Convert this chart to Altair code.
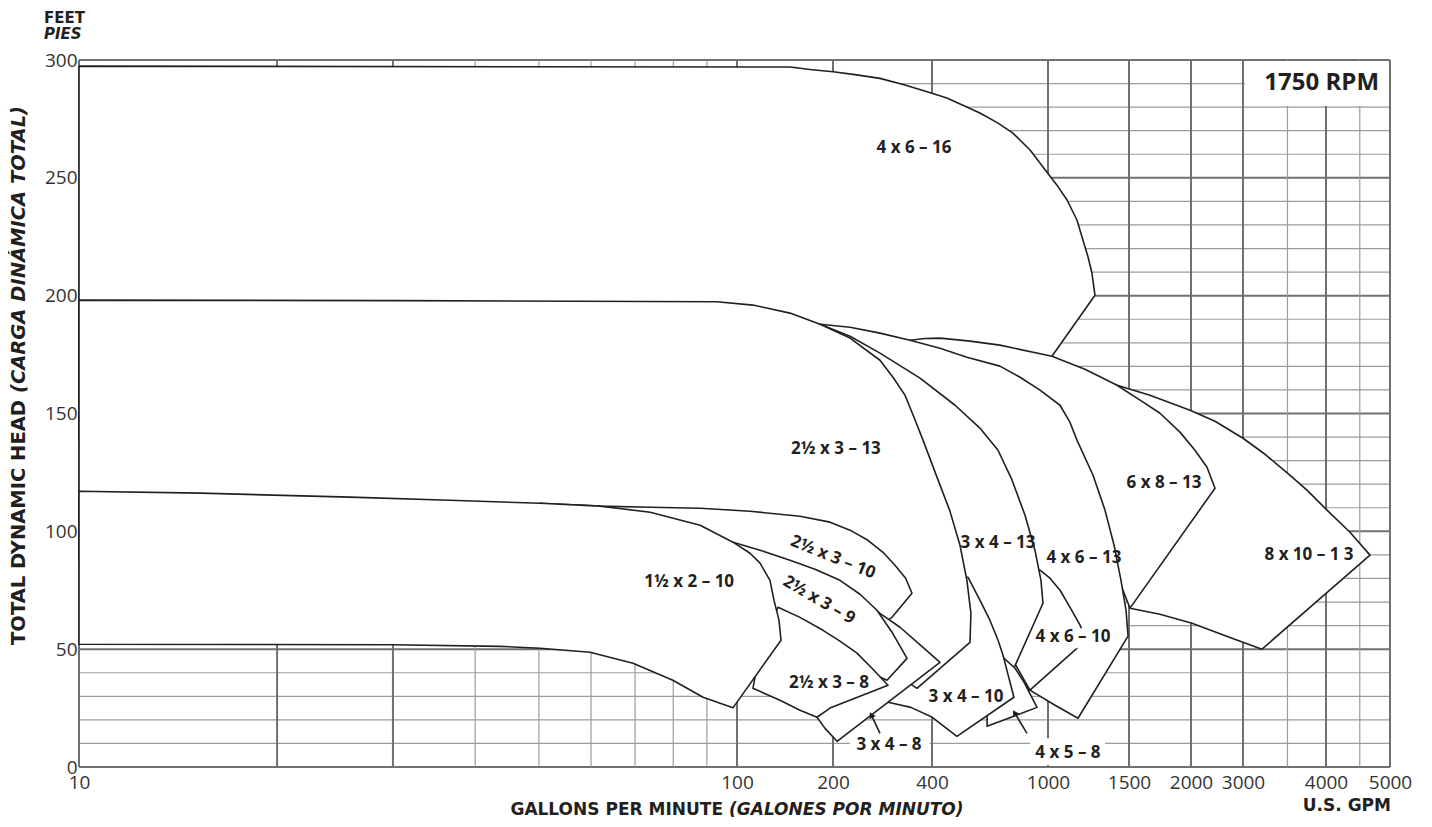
import altair as alt
import pandas as pd

INK = "#231f20"
GRID_DARK = "#707070"
GRID_LIGHT = "#9c9c9c"
FONT = "Open Sans"
TFONT = "DejaVu Sans"

# ---------------- axis / grid values ----------------
x_ticks = [10, 100, 200, 400, 1000, 1500, 2000, 3000, 4000, 5000]
y_ticks = [0, 50, 100, 150, 200, 250, 300]
v_major = [10, 20, 30, 100, 200, 400, 1000, 1500, 2000, 3000, 4000, 5000]
v_minor = [40, 50, 60, 70, 80, 90, 3500, 4500]
h_major = [0, 50, 100, 150, 200, 250, 300]
h_minor = [10, 20, 30, 40, 60, 70, 80, 90, 110, 120, 130, 140, 160, 170, 180, 190,
           210, 220, 230, 240, 260, 270, 280, 290]

# ---------------- pump coverage outlines (GPM, feet), back to front ----------------
gpm_4x6_16 = [10, 146.6, 169.4, 200, 233.3, 277.9, 331, 400, 450, 584, 674, 758, 868, 992, 1046, 1100, 1156,
              1191, 1222, 1246, 1265, 1020, 741, 10]
ft_4x6_16 = [297.4, 297.0, 296.0, 295.0, 293.8, 292.2, 289.4, 285.9, 283.9, 277.5, 273.2, 269.0, 261.8, 252.4, 246.9,
             240.6, 232.1, 223.6, 216.4, 209.6, 200.2, 174.3, 138.7, 138.7]

gpm_8x10_13 = [1413, 1653, 1991, 2412, 3000, 3238, 3500, 3745, 4014, 4349, 4663, 3204, 2711, 2016, 1732, 1507, 1434]
ft_8x10_13 = [162.0, 157.7, 151.4, 146.7, 139.5, 132.7, 124.7, 117.5, 109.0, 99.6, 89.9, 50.0, 55.0, 61.0, 64.8,
              67.4, 113.2]

gpm_6x8_13 = [342.9, 380.9, 426, 540, 684, 1020, 1203, 1413, 1579, 1732, 1900, 2063, 2266, 2412,
              1507, 1398, 1297, 684, 347.7]
ft_6x8_13 = [181.1, 181.8, 182.0, 180.7, 179.0, 174.3, 168.8, 162.0, 155.7, 150.1, 142.1, 134.4, 127.2, 118.3,
             67.4, 83.5, 104.7, 155.7, 180.3]

gpm_4x6_13 = [182.1, 225.3, 277.9, 342.9, 426, 527, 684, 802, 939, 1062, 1116, 1156, 1253, 1330, 1392, 1441, 1478,
              1493, 1162, 1036, 867, 783, 712, 632, 426, 277.9]
ft_4x6_13 = [187.9, 186.6, 184.1, 181.1, 177.7, 173.9, 170.1, 165.4, 159.9, 153.5, 146.3, 138.7, 123.8, 109.0, 94.1,
             79.2, 66.5, 55.5, 20.7, 26.2, 32.6, 38.1, 41.9, 70.8, 134.4, 168.4]

gpm_4x6_10 = [939, 1010, 1062, 1116, 1174, 1210, 867, 758, 684, 867]
ft_4x6_10 = [83.5, 80.1, 75.0, 67.8, 60.2, 53.8, 32.6, 45.3, 62.3, 85.6]

gpm_3x4_13 = [182.1, 225.3, 277.9, 367.8, 480, 584, 674, 753, 834, 902, 946, 961, 758, 729, 632, 499, 277.9]
ft_3x4_13 = [187.9, 182.8, 175.6, 165.0, 153.5, 143.8, 134.4, 121.7, 106.8, 92.0, 79.2, 69.5, 41.0, 36.8, 45.3, 70.8,
             164.2]

gpm_4x5_8 = [707, 771, 827, 917, 618, 618, 632]
ft_4x5_8 = [46.1, 41.9, 36.0, 25.3, 17.3, 21.5, 32.6]

gpm_3x4_10 = [532, 584, 632, 674, 701, 723, 764, 487, 443, 401, 345, 294, 333, 460, 523]
ft_3x4_10 = [80.5, 70.8, 62.3, 53.8, 47.4, 41.0, 29.6, 13.0, 16.9, 21.1, 25.3, 27.5, 41.0, 62.3, 80.5]

gpm_25x3_13 = [10, 30.7, 93.2, 112.2, 146.6, 182.1, 225.3, 277.9, 304.4, 331, 352.6, 375.6, 416, 460, 499, 527,
               544, 540, 360, 315.3, 241.7, 146.6, 87.9, 10]
ft_25x3_13 = [198.1, 197.9, 197.4, 196.0, 192.6, 187.9, 182.0, 172.6, 165.4, 157.8, 148.4, 138.7, 123.0, 108.9, 94.1,
              79.2, 65.2, 52.9, 33.4, 38.9, 62.3, 70.8, 87.7, 87.7]

gpm_25x3_10 = [50.2, 61.9, 73.8, 87.9, 110, 157.6, 195.7, 225.3, 255.5, 283.8, 308.7, 332.6, 347.7, 302.3,
               277.9, 136.4, 87.9, 53.8]
ft_25x3_10 = [111.9, 110.7, 110.2, 109.8, 108.5, 106.4, 103.9, 100.5, 96.2, 91.1, 85.6, 80.1, 73.7, 63.5,
              60.2, 75.0, 96.2, 111.1]

gpm_3x4_8 = [262.8, 277.9, 319.7, 375.6, 426, 205.7, 188.8, 178.2, 210, 250.2]
ft_3x4_8 = [67.8, 65.2, 59.3, 50.8, 44.4, 10.9, 16.4, 21.1, 32.6, 53.8]

gpm_25x3_9 = [98.6, 118.1, 146.6, 175.6, 210, 241.6, 272.1, 302.3, 335.8, 291.9, 250.2, 126.9, 98.6]
ft_25x3_9 = [95.4, 92.0, 87.7, 83.9, 79.2, 73.3, 66.5, 57.2, 46.1, 36.8, 41.0, 60.2, 94.1]

gpm_25x3_8 = [134.5, 157.6, 186.1, 210, 236.6, 262.8, 294, 195.7, 178.2, 157.6, 136.4, 112.2, 118.1]
ft_25x3_8 = [67.8, 63.5, 58.0, 53.4, 48.3, 41.9, 34.7, 25.0, 21.1, 24.1, 28.3, 33.4, 49.5]

gpm_15x2_10 = [10, 15.3, 25.8, 36.6, 50.2, 61.9, 73.8, 87.9, 98.6, 109.9, 118.1, 126.9, 130.6, 135.4, 137.4,
               98.6, 88.8, 79.9, 69.5, 59.8, 50.2, 43.6, 30, 10]
ft_15x2_10 = [117.0, 116.2, 114.5, 113.2, 111.9, 110.7, 108.1, 102.6, 95.4, 90.7, 86.5, 79.2, 70.8, 62.3, 53.8,
              25.1, 29.6, 36.8, 44.0, 48.7, 50.4, 51.2, 51.9, 52.1]

regions = [
    (gpm_4x6_16, ft_4x6_16), (gpm_8x10_13, ft_8x10_13), (gpm_6x8_13, ft_6x8_13),
    (gpm_4x6_13, ft_4x6_13), (gpm_4x6_10, ft_4x6_10), (gpm_3x4_13, ft_3x4_13),
    (gpm_4x5_8, ft_4x5_8), (gpm_3x4_10, ft_3x4_10), (gpm_25x3_13, ft_25x3_13),
    (gpm_25x3_10, ft_25x3_10), (gpm_3x4_8, ft_3x4_8), (gpm_25x3_9, ft_25x3_9),
    (gpm_25x3_8, ft_25x3_8), (gpm_15x2_10, ft_15x2_10),
]

# ---------------- region labels ----------------
label_text = ["4 x 6 – 16", "2½ x 3 – 13", "1½ x 2 – 10", "2½ x 3 – 8", "3 x 4 – 8", "3 x 4 – 10",
              "3 x 4 – 13", "4 x 6 – 13", "4 x 6 – 10", "4 x 5 – 8", "6 x 8 – 13", "8 x 10 – 1 3"]
label_gpm = [352.6, 204.2, 84.6, 194.3, 296, 523, 674, 1197, 1133, 1105, 1764, 3771]
label_ft = [262.6, 134.9, 78.4, 35.5, 9.2, 29.6, 95.0, 88.6, 55.0, 5.8, 120.4, 89.9]

tilted_text = ["2½ x 3 – 10", "2½ x 3 – 9"]
tilted_gpm = [200, 180.8]
tilted_ft = [89.0, 70.8]
tilted_angle = [22, 30]

# white boxes behind labels that sit on the grid / on outlines, and the RPM box
box_gpm1 = [225.5, 867, 900, 3021]
box_gpm2 = [394, 1330, 1398, 4983]
box_ft1 = [4.1, 0.8, 50.4, 280.5]
box_ft2 = [13.5, 12.2, 58.9, 299.6]

# pointer arrows (tail -> head)
arrow_gpm1 = [277.9, 847]
arrow_ft1 = [14.3, 14.3]
arrow_gpm2 = [261.5, 768]
arrow_ft2 = [22.1, 23.0]
arrow_angle = [334, 329]

# ---------------- scales / axes ----------------
xscale = alt.Scale(type="log", domain=x_ticks,
                   range=[0, 658, 754, 853, 969, 1050, 1112, 1164, 1247, 1311],
                   nice=False, zero=False)
yscale = alt.Scale(domain=[0, 300], nice=False, zero=False)

xaxis = alt.Axis(values=x_ticks, format="d", domain=False, ticks=False, tickSize=0, grid=False,
                 labelFont=FONT, labelFontSize=19, labelColor="#333333", labelPadding=15,
                 labelBaseline="middle", labelFlush=False, labelOverlap=False, title=None)
yaxis = alt.Axis(values=y_ticks, format="d", domain=False, ticks=False, tickSize=0, grid=False,
                 labelFont=FONT, labelFontSize=19, labelColor="#333333", labelPadding=2,
                 labelOverlap=False, title=None)


def X(f):
    return alt.X(f"{f}:Q", scale=xscale, axis=xaxis)


def Y(f):
    return alt.Y(f"{f}:Q", scale=yscale, axis=yaxis)


layers = []

# grid
for vals, col, w in [(h_minor, GRID_LIGHT, 1.2), (h_major, GRID_DARK, 2)]:
    layers.append(alt.Chart(pd.DataFrame({"ft": vals})).mark_rule(color=col, strokeWidth=w).encode(y=Y("ft")))
for vals, col, w in [(v_minor, GRID_LIGHT, 1.2), (v_major, GRID_DARK, 2)]:
    layers.append(alt.Chart(pd.DataFrame({"gpm": vals})).mark_rule(color=col, strokeWidth=w).encode(x=X("gpm")))

# RPM box (last entry of the boxes)
rpm_box = pd.DataFrame({"g1": box_gpm1[3:], "g2": box_gpm2[3:], "f1": box_ft1[3:], "f2": box_ft2[3:]})
layers.append(alt.Chart(rpm_box).mark_rect(color="white").encode(
    x=X("g1"), x2="g2:Q", y=Y("f1"), y2="f2:Q"))

# pump regions
for g, h in regions:
    df = pd.DataFrame({"gpm": g, "ft": h, "i": list(range(len(g)))})
    layers.append(alt.Chart(df).mark_line(interpolate="linear-closed", fill="white", stroke=INK,
                                          strokeWidth=1.6, strokeJoin="round").encode(
        x=X("gpm"), y=Y("ft"), order=alt.Order("i:Q")))

# label boxes
lab_box = pd.DataFrame({"g1": box_gpm1[:3], "g2": box_gpm2[:3], "f1": box_ft1[:3], "f2": box_ft2[:3]})
layers.append(alt.Chart(lab_box).mark_rect(color="white").encode(
    x=X("g1"), x2="g2:Q", y=Y("f1"), y2="f2:Q"))

# labels
lab_df = pd.DataFrame({"t": label_text, "gpm": label_gpm, "ft": label_ft})
layers.append(alt.Chart(lab_df).mark_text(font=FONT, fontSize=17, fontWeight="bold", color=INK,
                                          baseline="middle").encode(x=X("gpm"), y=Y("ft"), text="t:N"))
for t, g, h, a in zip(tilted_text, tilted_gpm, tilted_ft, tilted_angle):
    layers.append(alt.Chart(pd.DataFrame({"t": [t], "gpm": [g], "ft": [h]})).mark_text(
        font=FONT, fontSize=17, fontWeight="bold", color=INK, baseline="middle", angle=a).encode(
        x=X("gpm"), y=Y("ft"), text="t:N"))

# arrows
arr = pd.DataFrame({"g1": arrow_gpm1, "f1": arrow_ft1, "g2": arrow_gpm2, "f2": arrow_ft2})
layers.append(alt.Chart(arr).mark_rule(color=INK, strokeWidth=1.6).encode(
    x=X("g1"), x2="g2:Q", y=Y("f1"), y2="f2:Q"))
for g, h, a in zip(arrow_gpm2, arrow_ft2, arrow_angle):
    layers.append(alt.Chart(pd.DataFrame({"gpm": [g], "ft": [h]})).mark_point(
        shape="triangle-up", filled=True, size=50, color=INK, opacity=1, angle=a).encode(
        x=X("gpm"), y=Y("ft")))

# RPM text
rpm = pd.DataFrame({"t": ["1750 RPM"], "gpm": [4812], "ft": [290.2]})
layers.append(alt.Chart(rpm).mark_text(font=FONT, fontSize=24, fontWeight="bold", color=INK,
                                       align="right", baseline="middle").encode(
    x=X("gpm"), y=Y("ft"), text="t:N"))

# titles (outside plot area)
one = pd.DataFrame({"a": [0]})


def note(text, x, y, size=17, style="normal", align="left", angle=0):
    return alt.Chart(one).mark_text(text=text, font=TFONT, fontSize=size, fontWeight="bold",
                                    fontStyle=style, color=INK, align=align, baseline="middle",
                                    angle=angle).encode(x=alt.value(x), y=alt.value(y))


layers += [
    note("FEET", -35, -42, 15),
    note("PIES", -35, -26, 15, "italic"),
    note("TOTAL DYNAMIC HEAD", -60, 340, 19.5, align="right", angle=270),
    note("(CARGA DINÁMICA TOTAL)", -60, 333, 19.5, "italic", align="left", angle=270),
    note("GALLONS PER MINUTE", 644, 750, 17, align="right"),
    note("(GALONES POR MINUTO)", 650, 750, 17, "italic", align="left"),
    note("U.S. GPM", 1312, 746, 17, align="right"),
]

chart = alt.layer(*layers).properties(
    width=1311, height=707,
    padding={"left": 71, "top": 52, "right": 30, "bottom": 52},
    autosize=alt.AutoSizeParams(type="none"),
).configure_view(stroke=None)

chart.save("out.html", embed_options={"renderer": "svg", "actions": False})
